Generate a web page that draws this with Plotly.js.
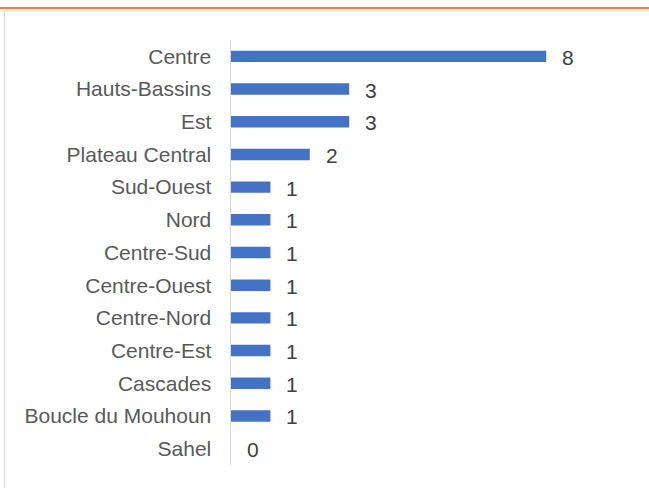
<!DOCTYPE html>
<html>
<head>
<meta charset="utf-8">
<script src="https://cdn.plot.ly/plotly-3.0.1.min.js"></script>
<style>
  html, body { margin: 0; padding: 0; background: #ffffff; }
  #wrap { position: relative; width: 649px; height: 488px; overflow: hidden; }
  #chart { position: absolute; left: 0; top: 0; width: 649px; height: 488px; }
  #orange { position: absolute; left: 0; top: 7px; width: 649px; height: 2px; background: #ED7D31; }
  #frame { position: absolute; left: 4px; top: 10px; width: 700px; height: 600px; border: 1px solid #d9d9d9; box-sizing: border-box; pointer-events: none; }
</style>
</head>
<body>
<div id="wrap">
  <div id="frame"></div>
  <div id="orange"></div>
  <div id="chart"></div>
</div>
<script>
const regions = ["Centre", "Hauts-Bassins", "Est", "Plateau Central", "Sud-Ouest", "Nord",
  "Centre-Sud", "Centre-Ouest", "Centre-Nord", "Centre-Est", "Cascades", "Boucle du Mouhoun", "Sahel"];
const counts = [8, 3, 3, 2, 1, 1, 1, 1, 1, 1, 1, 1, 0];

const trace = {
  type: "bar",
  orientation: "h",
  x: counts,
  y: regions,
  marker: { color: "#4472C4", line: { color: "#4472C4", width: 0 } },
  hoverinfo: "none"
};

const annotations = regions.map((r, i) => ({
  x: counts[i],
  y: r,
  xref: "x",
  yref: "y",
  text: String(counts[i]),
  showarrow: false,
  xanchor: "left",
  yanchor: "middle",
  xshift: 14,
  yshift: -1,
  font: { family: "Liberation Sans, Arial, sans-serif", size: 21, color: "#404040" }
}));

const layout = {
  width: 649,
  height: 488,
  margin: { l: 231, r: 24, t: 40, b: 22.5, pad: 0 },
  paper_bgcolor: "rgba(0,0,0,0)",
  plot_bgcolor: "rgba(0,0,0,0)",
  bargap: 0.65,
  showlegend: false,
  xaxis: {
    range: [0, 10],
    visible: false,
    showgrid: false,
    zeroline: false,
    fixedrange: true
  },
  yaxis: {
    type: "category",
    categoryorder: "array",
    categoryarray: regions,
    autorange: "reversed",
    showgrid: false,
    zeroline: false,
    showline: true,
    linecolor: "#d9d9d9",
    linewidth: 1.5,
    ticks: "",
    ticklabelstandoff: 14,
    tickfont: { family: "Liberation Sans, Arial, sans-serif", size: 21, color: "#595959" },
    fixedrange: true
  },
  annotations: annotations
};

Plotly.newPlot("chart", [trace], layout, { displayModeBar: false, staticPlot: true });
</script>
</body>
</html>
